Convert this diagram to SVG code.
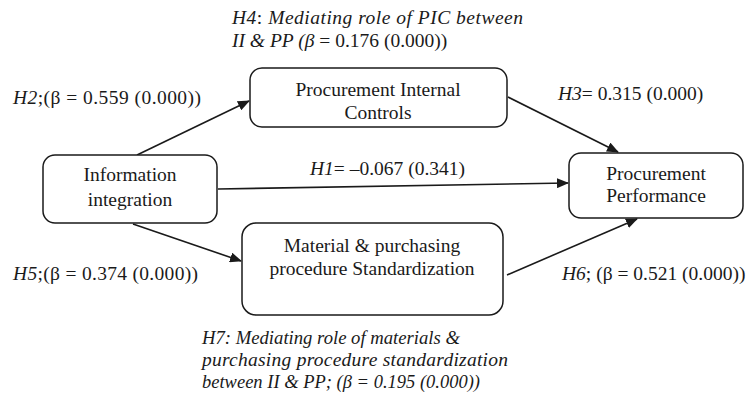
<svg xmlns="http://www.w3.org/2000/svg" width="750" height="397" viewBox="0 0 750 397">
<style>
text{font-family:"Liberation Serif","Times New Roman",serif;font-size:19.5px;fill:#1a1a1a}
.c{text-anchor:middle}
.i{font-style:italic}
.box{fill:#fff;stroke:#1a1a1a;stroke-width:1.5}
.edge{stroke:#1a1a1a;stroke-width:1.6;fill:none;marker-end:url(#ah)}
</style>
<defs>
<marker id="ah" viewBox="0 0 12 10" refX="11" refY="5" markerWidth="12" markerHeight="10" markerUnits="userSpaceOnUse" orient="auto">
<path d="M0,0 L12,5 L0,10 z" fill="#1a1a1a"/>
</marker>
</defs>
<g id="connectors">
<line class="edge" x1="137" y1="155" x2="249" y2="101"/>
<line class="edge" x1="508" y1="97" x2="618" y2="152"/>
<line class="edge" x1="218" y1="189" x2="568" y2="183"/>
<line class="edge" x1="133" y1="224" x2="241" y2="261"/>
<line class="edge" x1="507" y1="275" x2="637" y2="219"/>
</g>
<g id="pic">
<rect class="box" x="250" y="68" width="257" height="59" rx="12"/>
<text class="c" x="378" y="96">Procurement Internal</text>
<text class="c" x="378" y="119">Controls</text>
</g>
<g id="ii">
<rect class="box" x="43" y="155" width="174" height="68" rx="12"/>
<text class="c" x="130" y="181">Information</text>
<text class="c" x="130" y="206">integration</text>
</g>
<g id="mps">
<rect class="box" x="242" y="223" width="261" height="92" rx="14"/>
<text class="c" x="372" y="252">Material &amp; purchasing</text>
<text class="c" x="372" y="275">procedure Standardization</text>
</g>
<g id="pp">
<rect class="box" x="569" y="153" width="174" height="65" rx="12"/>
<text class="c" x="656" y="180">Procurement</text>
<text class="c" x="656" y="202">Performance</text>
</g>
<g id="labels">
<text x="232" y="24" textLength="291" lengthAdjust="spacing"><tspan class="i">H4</tspan>: <tspan class="i">Mediating role of PIC between</tspan></text>
<text x="232" y="47"><tspan class="i">II &amp; PP (β</tspan> = 0.176 (0.000))</text>
<text x="13" y="104" textLength="188" lengthAdjust="spacing"><tspan class="i">H2</tspan>;(β = 0.559 (0.000))</text>
<text x="558" y="100"><tspan class="i">H3</tspan>= 0.315 (0.000)</text>
<text x="310" y="175"><tspan class="i">H1</tspan>= –0.067 (0.341)</text>
<text x="13" y="280" textLength="185" lengthAdjust="spacing"><tspan class="i">H5</tspan>;(β = 0.374 (0.000))</text>
<text x="562" y="280"><tspan class="i">H6</tspan>; (β = 0.521 (0.000))</text>
<text class="i" x="202" y="344" textLength="258" lengthAdjust="spacingAndGlyphs">H7:  Mediating role of materials &amp;</text>
<text class="i" x="202" y="366" textLength="306" lengthAdjust="spacing">purchasing procedure standardization</text>
<text class="i" x="202" y="388" textLength="278" lengthAdjust="spacingAndGlyphs">between II &amp; PP; (β = 0.195 (0.000))</text>
</g>
</svg>
